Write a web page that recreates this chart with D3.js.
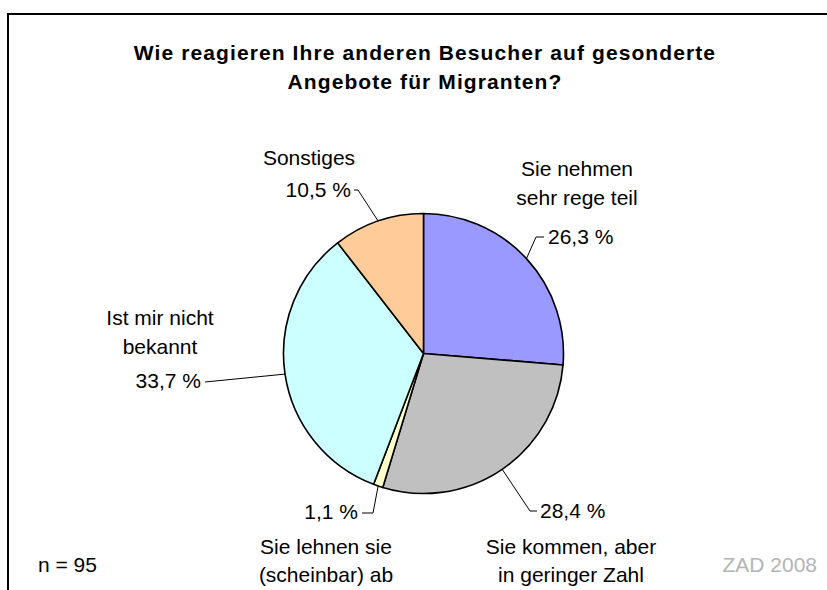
<!DOCTYPE html>
<html>
<head>
<meta charset="utf-8">
<script src="https://cdn.jsdelivr.net/npm/d3@7"></script>
<style>
  html, body { margin: 0; padding: 0; background: #fff; }
  svg { display: block; font-family: Arial, "Liberation Sans", sans-serif; }
</style>
</head>
<body>
<div id="vis"></div>
<script>
// data
const categories = [
  "Sie nehmen sehr rege teil",
  "Sie kommen, aber in geringer Zahl",
  "Sie lehnen sie (scheinbar) ab",
  "Ist mir nicht bekannt",
  "Sonstiges"
];
const labelLines = [
  ["Sie nehmen", "sehr rege teil"],
  ["Sie kommen, aber", "in geringer Zahl"],
  ["Sie lehnen sie", "(scheinbar) ab"],
  ["Ist mir nicht", "bekannt"],
  ["Sonstiges"]
];
const values = [26.3, 28.4, 1.1, 33.7, 10.5];
const titleLines = ["Wie reagieren Ihre anderen Besucher auf gesonderte", "Angebote für Migranten?"];
const sampleNote = "n = 95";
const sourceNote = "ZAD 2008";

// styling
const colors = ["#9999ff", "#c0c0c0", "#ffffcc", "#ccffff", "#ffcc99"];

const width = 827, height = 590;
const cx = 423.5, cy = 353.5, r = 140;

// label placement per slice: percent anchor, elbow point, name block
const labelLayout = [
  { px: 548, py: 237, anchor: "start", elbow: [536, 237], end: [544, 237], nx: 577, ny: [169, 198] },
  { px: 540, py: 511, anchor: "start", elbow: [530, 511], end: [537, 511], nx: 571, ny: [547, 575] },
  { px: 358, py: 512, anchor: "end", elbow: [373, 513], end: [362, 513], nx: 326, ny: [547, 575] },
  { px: 201, py: 381, anchor: "end", elbow: null, end: [205, 382], nx: 160, ny: [318, 347] },
  { px: 351, py: 190, anchor: "end", elbow: [358, 190], end: [354, 190], nx: 309, ny: [158] }
];

const fmt = v => d3.format(".1f")(v).replace(".", ",") + " %";

const svg = d3.select('#vis').append('svg')
  .attr('width', width)
  .attr('height', height);

// outer frame (right and bottom edges run off the picture)
svg.append('rect')
  .attr('x', 8).attr('y', 14)
  .attr('width', 840).attr('height', 620)
  .attr('fill', 'none')
  .attr('stroke', '#000')
  .attr('stroke-width', 2);

// title
svg.append('g').selectAll('text').data(titleLines).enter().append('text')
  .attr('x', 425)
  .attr('y', (d, i) => 53 + i * 29)
  .attr('dy', '0.35em')
  .attr('text-anchor', 'middle')
  .style('font-weight', 'bold')
  .style('font-size', '21px')
  .style('letter-spacing', '1.1px')
  .text(d => d);

// pie
const pie = d3.pie().sort(null).value(d => d)(values);
const arc = d3.arc().innerRadius(0).outerRadius(r);
const edge = d3.arc().innerRadius(r).outerRadius(r);

const g = svg.append('g').attr('transform', `translate(${cx},${cy})`);

g.selectAll('path.slice').data(pie).enter().append('path')
  .attr('class', 'slice')
  .attr('d', arc)
  .attr('fill', (d, i) => colors[i])
  .attr('stroke', '#000')
  .attr('stroke-width', 1.6)
  .attr('stroke-linejoin', 'round');

// leader lines
const line = d3.line();
svg.append('g').selectAll('path').data(pie).enter().append('path')
  .attr('d', (d, i) => {
    const c = edge.centroid(d);
    const p0 = [cx + c[0], cy + c[1]];
    const L = labelLayout[i];
    const pts = L.elbow ? [p0, L.elbow, L.end] : [p0, L.end];
    return line(pts);
  })
  .attr('fill', 'none')
  .attr('stroke', '#000')
  .attr('stroke-width', 1);

// percent labels
svg.append('g').selectAll('text').data(pie).enter().append('text')
  .attr('x', (d, i) => labelLayout[i].px)
  .attr('y', (d, i) => labelLayout[i].py)
  .attr('dy', '0.35em')
  .attr('text-anchor', (d, i) => labelLayout[i].anchor)
  .style('font-size', '21px')
  .text(d => fmt(d.data));

// category labels
const nameG = svg.append('g');
labelLines.forEach((lines, i) => {
  const L = labelLayout[i];
  lines.forEach((t, j) => {
    nameG.append('text')
      .attr('x', L.nx)
      .attr('y', L.ny[j])
      .attr('dy', '0.35em')
      .attr('text-anchor', 'middle')
      .style('font-size', '21px')
      .text(t);
  });
});

// footnotes
svg.append('text')
  .attr('x', 38).attr('y', 565).attr('dy', '0.35em')
  .style('font-size', '21px')
  .text(sampleNote);

svg.append('text')
  .attr('x', 817).attr('y', 565).attr('dy', '0.35em')
  .attr('text-anchor', 'end')
  .style('font-size', '21px')
  .style('fill', '#b4b4b4')
  .text(sourceNote);
</script>
</body>
</html>
